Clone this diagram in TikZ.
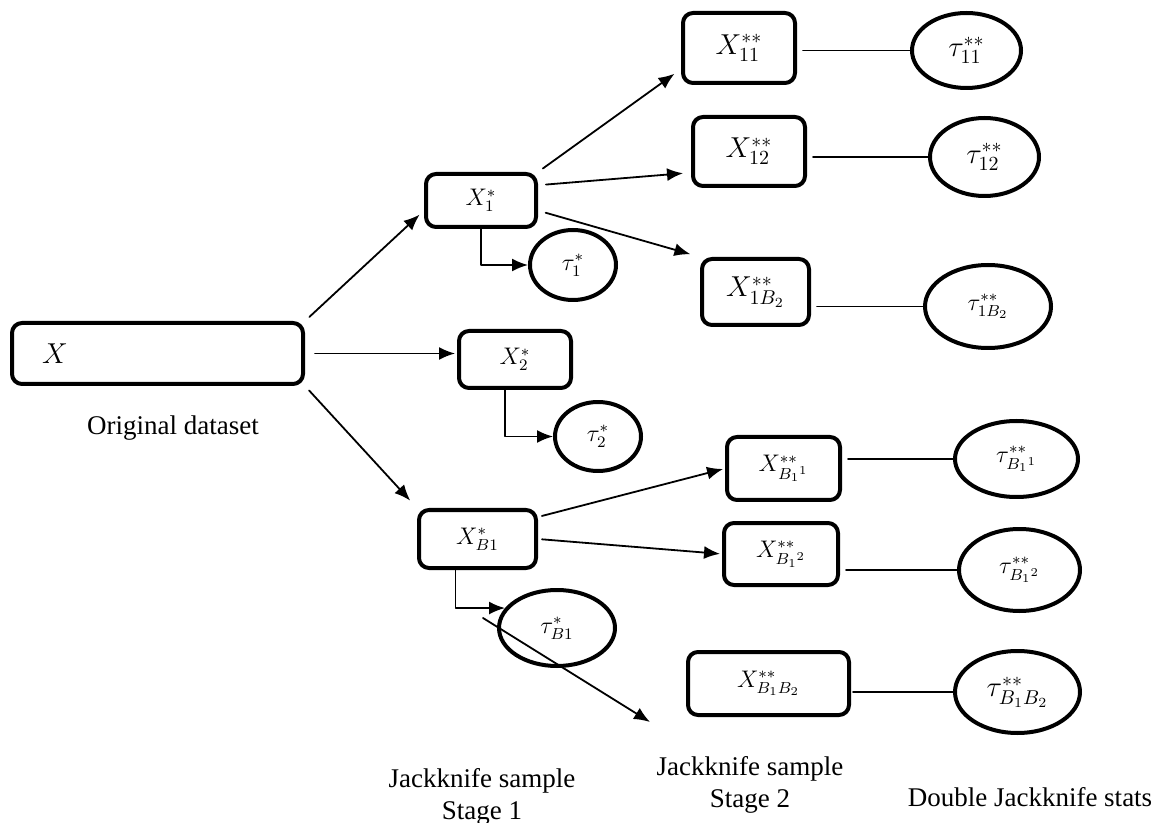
\documentclass[tikz,border=0pt]{standalone}
\usepackage{amsmath}
\usepackage{fontspec}
\setmainfont{Liberation Serif}
\usepackage{tikz}
\usetikzlibrary{shapes,arrows.meta}
\newcommand\lblfont{\fontsize{13.5}{16}\selectfont}

\begin{document}
\begin{tikzpicture}
    [line cap=round,line join=round,x=0.5pt,y=-0.5pt,
     sbox/.style={draw,line width=2pt,rounded corners=5pt,inner sep=0pt},
     sell/.style={draw,ellipse,line width=2pt,inner sep=0pt},
     arr/.style={-{Latex[length=8pt,width=6.5pt]},line width=0.9pt},
     link/.style={line width=0.9pt}]
\useasboundingbox (0,0) rectangle (1162,823);
%original data
 \node[sbox,text width=115.5pt,align=left,inner xsep=15pt,minimum height=30.5pt,font=\Large] (X) at (157.5,353.5) {$X$};
 \node[font=\lblfont] (orig) at (173,428) {Original dataset};

%stage 1 samples and stats
 \node[sbox,minimum width=55pt,minimum height=26.5pt,font=\large] (X1s) at (481,200.5) {$X_1^*$};
 \node[sbox,minimum width=56pt,minimum height=28.5pt,font=\large] (X2s) at (515,359.5) {$X_2^*$};
 \node[sbox,minimum width=58.5pt,minimum height=29pt,font=\large] (XB1s) at (477.5,539) {$X_{B1}^*$};
 \node[sell,minimum width=43pt,minimum height=35pt,font=\large] (t1s) at (573,265) {$\tau_1^*$};
 \node[sell,minimum width=43pt,minimum height=34.5pt,font=\large] (t2s) at (598,436.5) {$\tau_2^*$};
 \node[sell,minimum width=58pt,minimum height=38pt,font=\large] (tB1s) at (557,628) {$\tau_{B1}^*$};

%stage 2 samples
 \node[sbox,minimum width=56pt,minimum height=35pt,font=\Large] (X11) at (739,48) {$X_{11}^{**}$};
 \node[sbox,minimum width=56pt,minimum height=34.5pt,font=\Large] (X12) at (749,151.5) {$X_{12}^{**}$};
 \node[sbox,minimum width=53.5pt,minimum height=33pt,font=\Large] (X1B2) at (755.5,292) {$X_{1B_2}^{**}$};
 \node[sbox,minimum width=56.5pt,minimum height=31.5pt,font=\large] (XB11) at (783.5,468.5) {$X_{B_1{}^1}^{**}$};
 \node[sbox,minimum width=57pt,minimum height=31pt,font=\large] (XB12) at (781,554) {$X_{B_1{}^2}^{**}$};
 \node[sbox,minimum width=80.5pt,minimum height=31.5pt,font=\large] (XB1B2) at (768.5,683.5) {$X_{B_1B_2}^{**}$};

%double jackknife stats
 \node[sell,minimum width=54.5pt,minimum height=37.5pt,font=\Large] (t11) at (966.5,50.5) {$\tau_{11}^{**}$};
 \node[sell,minimum width=54.5pt,minimum height=39pt,font=\Large] (t12) at (984.5,157) {$\tau_{12}^{**}$};
 \node[sell,minimum width=63pt,minimum height=41.5pt,font=\large] (t1B2) at (988,306.5) {$\tau_{1B_2}^{**}$};
 \node[sell,minimum width=61.5pt,minimum height=38pt,font=\large] (tB11) at (1016.5,459) {$\tau_{B_1{}^1}^{**}$};
 \node[sell,minimum width=60.5pt,minimum height=41pt,font=\large] (tB12) at (1019.5,570) {$\tau_{B_1{}^2}^{**}$};
 \node[sell,minimum width=62.5pt,minimum height=41pt,font=\Large] (tB1B2) at (1017.5,692) {$\tau_{B_1B_2}^{**}$};

%column titles
 \node[font=\lblfont,align=center] (st1) at (482,797) {Jackknife sample\\Stage 1};
 \node[font=\lblfont,align=center] (st2) at (750,785) {Jackknife sample\\Stage 2};
 \node[font=\lblfont] (dbl) at (1030,797) {Double Jackknife stats};

%arrows out of the original data
 \draw[arr,shorten <=3pt,shorten >=3pt] (X.north east) -- (X1s.190);
 \draw[arr,shorten <=5pt,shorten >=1pt] (X.east) -- (X.east -| X2s.west);
 \draw[arr,shorten <=3pt,shorten >=5pt] (X.south east) -- (XB1s.north west);
 \draw[arr] (X1s.south) |- (t1s.west);
 \draw[arr] ([xshift=-5pt]X2s.south) |- (t2s.west);
 \draw[arr] ([xshift=-11pt]XB1s.south) |- (tB1s.159);

%arrows into stage 2
 \draw[arr,shorten <=3pt,shorten >=4pt] (X1s.north east) -- (X11.200);
 \draw[arr,shorten <=4pt,shorten >=4pt] (X1s.15) -- (X12.200);
 \draw[arr,shorten <=4pt,shorten >=5pt] (X1s.-10) -- (X1B2.north west);
 \draw[arr,shorten <=2pt,shorten >=1pt] (XB1s.20) -- (XB11.west);
 \draw[arr,shorten <=2pt,shorten >=1pt] (XB1s.east) -- (XB12.west);
 \coordinate (strayA) at (483,618);
 \coordinate (strayB) at (650,722);
 \draw[arr] (strayA) -- (strayB);

%links to the stats
 \draw[link,shorten <=3pt] (X11.east |- t11.west) -- (t11.west);
 \draw[link,shorten <=3pt] (X12.east |- t12.west) -- (t12.west);
 \draw[link,shorten <=3pt] (X1B2.east |- t1B2.west) -- (t1B2.west);
 \draw[link,shorten <=3pt] (XB11.east |- tB11.west) -- (tB11.west);
 \draw[link,shorten <=3pt] (XB12.east |- tB12.west) -- (tB12.west);
 \draw[link,shorten <=1pt] (XB1B2.east |- tB1B2.west) -- (tB1B2.west);
\end{tikzpicture}
\end{document}
